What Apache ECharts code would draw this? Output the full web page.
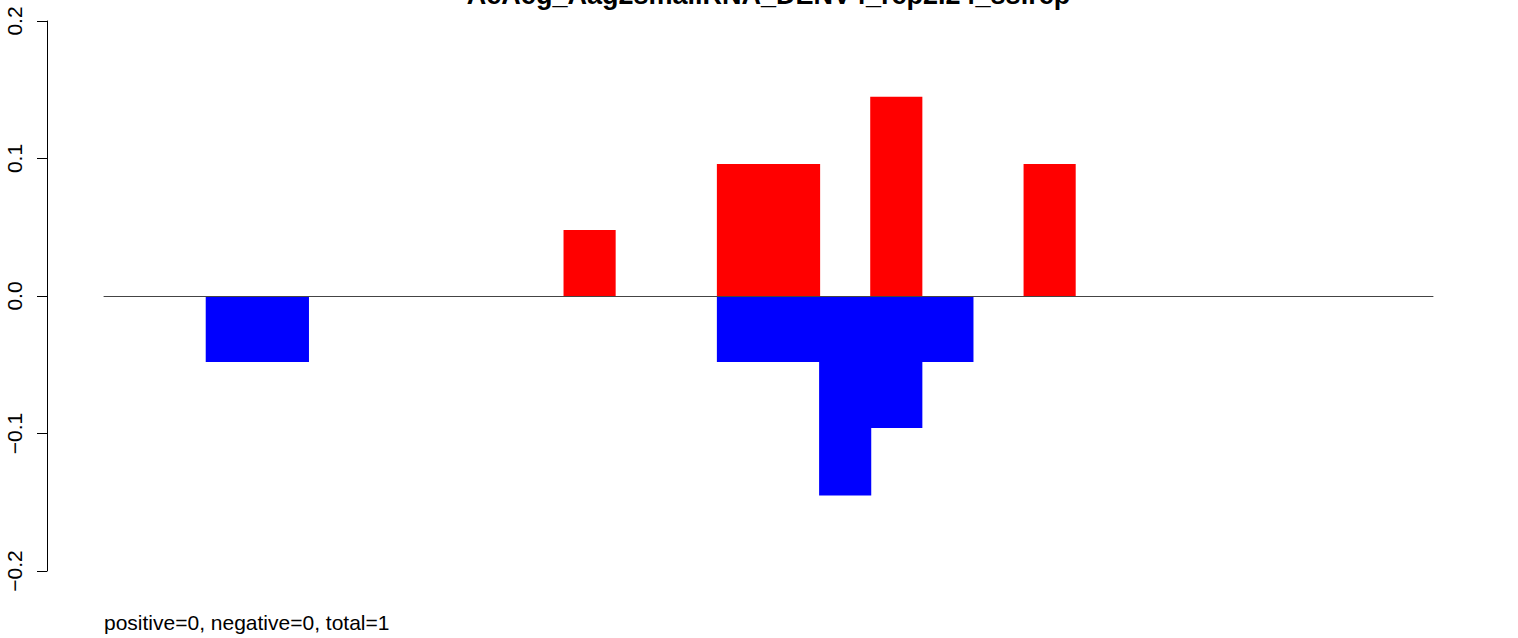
<!DOCTYPE html>
<html>
<head>
<meta charset="utf-8">
<script src="https://cdn.jsdelivr.net/npm/echarts@6/dist/echarts.min.js"></script>
<style>html,body{margin:0;padding:0;background:#fff;}#c{width:1518px;height:638px;}</style>
</head>
<body>
<div id="c"></div>
<script>
const titleText = "AeAeg_Aag2smallRNA_DENV4_rep2.24_ssirep";
const footText = "positive=0, negative=0, total=1";
const categories = ["1","2","3","4","5","6","7","8","9","10","11","12","13","14","15","16","17","18","19","20","21","22","23","24","25","26"];
const positive = [0,0,0,0,0,0,0,0,0,0.048,0,0,0.096,0.096,0,0.145,0,0,0.096,0,0,0,0,0,0,0];
const negative = [0,0,-0.048,-0.048,0,0,0,0,0,0,0,0,-0.048,-0.048,-0.145,-0.096,-0.048,0,0,0,0,0,0,0,0,0];
const yTicks = [-0.2,-0.1,0,0.1,0.2];

const chart = echarts.init(document.getElementById('c'), null, {renderer:'svg'});
const font = 'Liberation Sans, Arial, Helvetica, sans-serif';
chart.setOption({
  animation:false,
  grid:{left:104,right:85,top:21,bottom:67,containLabel:false},
  xAxis:{type:'category',data:categories,boundaryGap:true,z:5,
    axisLine:{show:true,onZero:true,lineStyle:{color:'#444',width:1}},
    axisTick:{show:false},axisLabel:{show:false},splitLine:{show:false}},
  yAxis:{type:'value',min:yTicks[0],max:yTicks[yTicks.length-1],interval:0.1,offset:57,
    axisLine:{show:true,lineStyle:{color:'#000',width:1}},
    axisTick:{show:true,length:10,inside:false,lineStyle:{color:'#000'}},
    axisLabel:{rotate:90,margin:22,fontSize:21,color:'#000',fontFamily:font,
      formatter:v=>v.toFixed(1).replace('-','\u2212')},
    splitLine:{show:false}},
  series:[
    {type:'bar',z:2,data:positive.map(v=>v===0?'-':v),itemStyle:{color:'#ff0000',borderWidth:0},barWidth:'102%',barGap:'-100%',barCategoryGap:0},
    {type:'bar',z:2,data:negative.map(v=>v===0?'-':v),itemStyle:{color:'#0000ff',borderWidth:0},barWidth:'102%',barGap:'-100%',barCategoryGap:0}
  ],
  graphic:[
    {type:'text',left:104,top:612,style:{text:footText,font:'21px '+font,fill:'#000'}},
    {type:'text',x:768.5,y:8,style:{text:titleText,font:'bold 27px '+font,fill:'#000',textAlign:'center',textVerticalAlign:'bottom'}}
  ]
});
</script>
</body>
</html>
